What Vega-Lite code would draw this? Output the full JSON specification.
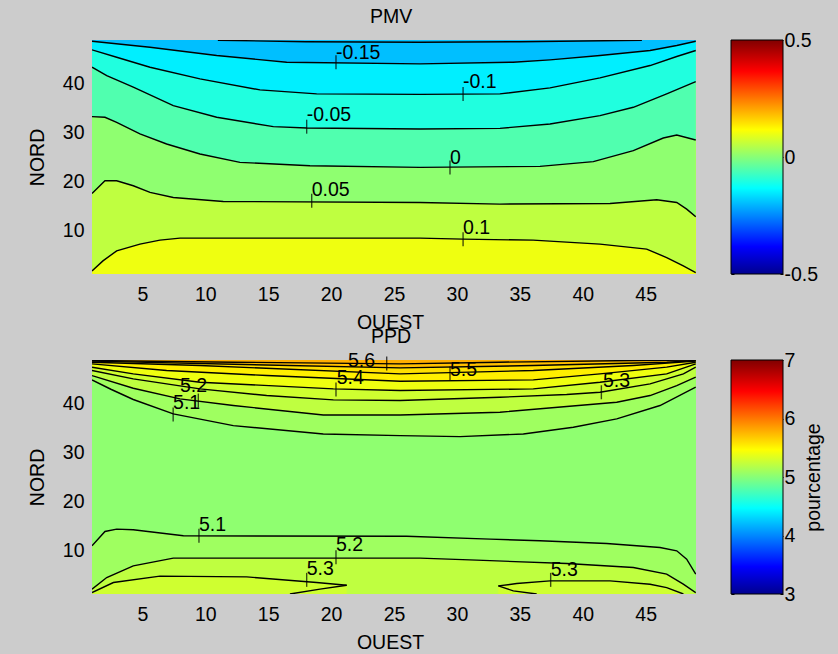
{
"$schema":"https://vega.github.io/schema/vega-lite/v6.json",
"background":"#cccccc",
"padding":{"left":27,"top":7,"right":20,"bottom":10},
"bounds":"flush",
"columns":2,
"spacing":{"row":86,"column":35},
"align":"each",
"resolve":{"scale":{"x":"independent","y":"independent","color":"independent"},"axis":{"x":"independent","y":"independent"}},
"config":{"font":"Liberation Sans","view":{"stroke":null},
"axis":{"grid":false,"domain":false,"ticks":false,"labelFontSize":19.5,"titleFontSize":19.5,"labelColor":"#000","titleColor":"#000","titleFontWeight":"normal","labelOverlap":false,"labelFlush":false},
"title":{"fontSize":19.5,"fontWeight":"normal","color":"#000"}},
"datasets":{
"pmv":[
{"id":"p010","x":1,"y":1.64},{"id":"p010","x":1.87,"y":3.69},{"id":"p010","x":2.96,"y":5.75},{"id":"p010","x":4.81,"y":7.12},{"id":"p010","x":6.4,"y":7.94},{"id":"p010","x":7.99,"y":8.36},{"id":"p010","x":14.35,"y":8.36},{"id":"p010","x":27.07,"y":8.36},{"id":"p010","x":30.48,"y":8.15},{"id":"p010","x":36.05,"y":7.94},{"id":"p010","x":41.37,"y":7.12},{"id":"p010","x":45.08,"y":6.1},{"id":"p010","x":46.67,"y":4.37},{"id":"p010","x":47.99,"y":2.66},{"id":"p010","x":48.98,"y":1.29},
{"id":"p005","x":1,"y":17.52},{"id":"p005","x":2.03,"y":20.13},{"id":"p005","x":2.96,"y":20.13},{"id":"p005","x":4.28,"y":19.1},{"id":"p005","x":5.61,"y":17.73},{"id":"p005","x":7.46,"y":16.7},{"id":"p005","x":11.43,"y":15.88},{"id":"p005","x":27.07,"y":15.67},{"id":"p005","x":33.42,"y":15.34},{"id":"p005","x":42.17,"y":15.46},{"id":"p005","x":45.88,"y":16.22},{"id":"p005","x":47.47,"y":15.67},{"id":"p005","x":48.26,"y":14.31},{"id":"p005","x":48.98,"y":12.73},
{"id":"p000","x":1,"y":33.29},{"id":"p000","x":2.03,"y":33.15},{"id":"p000","x":2.96,"y":32.12},{"id":"p000","x":4.81,"y":29.73},{"id":"p000","x":6.93,"y":27.67},{"id":"p000","x":9.58,"y":25.62},{"id":"p000","x":12.76,"y":23.9},{"id":"p000","x":18.32,"y":23.21},{"id":"p000","x":27.07,"y":22.87},{"id":"p000","x":36.6,"y":23.08},{"id":"p000","x":40.84,"y":24.04},{"id":"p000","x":44.02,"y":26.3},{"id":"p000","x":46.4,"y":28.9},{"id":"p000","x":47.47,"y":29.52},{"id":"p000","x":48.98,"y":28.49},
{"id":"m005","x":1,"y":43.42},{"id":"m005","x":2.17,"y":41.71},{"id":"m005","x":4.28,"y":39.32},{"id":"m005","x":7.46,"y":35.54},{"id":"m005","x":10.91,"y":33.15},{"id":"m005","x":15.41,"y":31.23},{"id":"m005","x":18.06,"y":30.96},{"id":"m005","x":27.07,"y":30.75},{"id":"m005","x":33.42,"y":30.88},{"id":"m005","x":37.4,"y":31.77},{"id":"m005","x":41.37,"y":33.49},{"id":"m005","x":44.02,"y":35.2},{"id":"m005","x":46.67,"y":37.94},{"id":"m005","x":48.98,"y":40.47},
{"id":"m010","x":1,"y":46.98},{"id":"m010","x":2.96,"y":45.47},{"id":"m010","x":5.61,"y":43.42},{"id":"m010","x":9.58,"y":41.02},{"id":"m010","x":14.35,"y":38.76},{"id":"m010","x":18.85,"y":37.94},{"id":"m010","x":27.07,"y":37.85},{"id":"m010","x":33.42,"y":37.94},{"id":"m010","x":37.4,"y":39.17},{"id":"m010","x":41.37,"y":41.23},{"id":"m010","x":45.35,"y":43.76},{"id":"m010","x":47.47,"y":45.61},{"id":"m010","x":48.98,"y":46.84},
{"id":"m015","x":1,"y":48.75},{"id":"m015","x":5.61,"y":47.52},{"id":"m015","x":10.91,"y":45.81},{"id":"m015","x":16.47,"y":44.44},{"id":"m015","x":27.07,"y":44.11},{"id":"m015","x":34.46,"y":44.44},{"id":"m015","x":37.4,"y":44.93},{"id":"m015","x":41.37,"y":45.81},{"id":"m015","x":45.35,"y":46.84},{"id":"m015","x":47.47,"y":47.87},{"id":"m015","x":48.98,"y":48.75},
{"id":"m020","x":11,"y":48.95},{"id":"m020","x":18,"y":48.65},{"id":"m020","x":27.07,"y":48.55},{"id":"m020","x":35,"y":48.65},{"id":"m020","x":44.7,"y":48.95}
],
"pmvText":[{"t":"-0.15","x":20.39,"y":45.13},{"t":"-0.1","x":30.48,"y":39.24},{"t":"-0.05","x":18.06,"y":32.46},{"t":"0","x":29.45,"y":23.62},{"t":"0.05","x":18.46,"y":17.05},{"t":"0.1","x":30.49,"y":9.24}],
"pmvPlus":[{"x":20.39,"y":44.44},{"x":30.49,"y":37.94},{"x":18.06,"y":31.22},{"x":29.45,"y":22.86},{"x":18.46,"y":16.02},{"x":30.49,"y":8.15}],
"ppd":[
{"id":"b51","x":1,"y":10.89},{"id":"b51","x":2.03,"y":13.83},{"id":"b51","x":2.96,"y":14.31},{"id":"b51","x":4.28,"y":14.17},{"id":"b51","x":8.26,"y":12.94},{"id":"b51","x":26,"y":12.85},{"id":"b51","x":32.63,"y":12.25},{"id":"b51","x":36.6,"y":11.91},{"id":"b51","x":41.9,"y":11.36},{"id":"b51","x":46.14,"y":10.54},{"id":"b51","x":47.47,"y":9.86},{"id":"b51","x":48.26,"y":8.15},{"id":"b51","x":48.98,"y":5.06},
{"id":"b52","x":1,"y":1.99},{"id":"b52","x":2.17,"y":4.38},{"id":"b52","x":4.28,"y":6.78},{"id":"b52","x":7.46,"y":8.36},{"id":"b52","x":14.88,"y":8.36},{"id":"b52","x":27.07,"y":8.36},{"id":"b52","x":31.57,"y":7.94},{"id":"b52","x":38.73,"y":7.25},{"id":"b52","x":44.02,"y":6.43},{"id":"b52","x":46.67,"y":5.07},{"id":"b52","x":47.99,"y":3.01},{"id":"b52","x":48.98,"y":1.29},
{"id":"b53a","x":1,"y":1.29},{"id":"b53a","x":2.7,"y":3.36},{"id":"b53a","x":6.4,"y":4.66},{"id":"b53a","x":13.29,"y":4.52},{"id":"b53a","x":18.85,"y":3.35},{"id":"b53a","x":21.24,"y":2.8},
{"id":"b53b","x":33.29,"y":2.66},{"id":"b53b","x":34.75,"y":3.14},{"id":"b53b","x":37.4,"y":3.69},{"id":"b53b","x":42.17,"y":3.69},{"id":"b53b","x":45.35,"y":3.01},{"id":"b53b","x":46.67,"y":2.32},{"id":"b53b","x":48,"y":1},
{"id":"t51","x":1,"y":44.92},{"id":"t51","x":2.5,"y":43.0},{"id":"t51","x":4.28,"y":40.9},{"id":"t51","x":7.46,"y":37.94},{"id":"t51","x":12.23,"y":35.54},{"id":"t51","x":19.38,"y":33.83},{"id":"t51","x":25.48,"y":33.49},{"id":"t51","x":30.25,"y":33.28},{"id":"t51","x":35.28,"y":33.83},{"id":"t51","x":39.25,"y":35.2},{"id":"t51","x":42.7,"y":36.91},{"id":"t51","x":46.14,"y":39.66},{"id":"t51","x":48.98,"y":43.42},
{"id":"t52","x":1,"y":45.81},{"id":"t52","x":4.28,"y":43.2},{"id":"t52","x":7.99,"y":41.02},{"id":"t52","x":12.23,"y":39.66},{"id":"t52","x":19.38,"y":37.73},{"id":"t52","x":25.48,"y":37.73},{"id":"t52","x":33.42,"y":38.28},{"id":"t52","x":38.72,"y":39.45},{"id":"t52","x":42.7,"y":40.34},{"id":"t52","x":45.35,"y":41.71},{"id":"t52","x":47.47,"y":43.76},{"id":"t52","x":48.98,"y":45.47},
{"id":"t53","x":1,"y":46.84},{"id":"t53","x":4.28,"y":45.12},{"id":"t53","x":9.58,"y":43.08},{"id":"t53","x":14.88,"y":41.71},{"id":"t53","x":20.18,"y":40.82},{"id":"t53","x":25.48,"y":40.68},{"id":"t53","x":33.42,"y":41.36},{"id":"t53","x":38.72,"y":41.91},{"id":"t53","x":41.37,"y":42.39},{"id":"t53","x":45.35,"y":44.1},{"id":"t53","x":48,"y":46.16},{"id":"t53","x":48.98,"y":47.53},
{"id":"t54","x":1,"y":47.53},{"id":"t54","x":4.28,"y":46.16},{"id":"t54","x":9.58,"y":44.44},{"id":"t54","x":20.18,"y":43.08},{"id":"t54","x":25.48,"y":42.73},{"id":"t54","x":36.07,"y":43.08},{"id":"t54","x":41.37,"y":44.44},{"id":"t54","x":46.67,"y":46.16},{"id":"t54","x":48.98,"y":48.21},
{"id":"t55","x":1,"y":48.21},{"id":"t55","x":6.93,"y":46.84},{"id":"t55","x":14.88,"y":45.81},{"id":"t55","x":25.48,"y":44.64},{"id":"t55","x":36.07,"y":44.92},{"id":"t55","x":41.37,"y":46.16},{"id":"t55","x":46.67,"y":47.53},{"id":"t55","x":48.98,"y":48.55},
{"id":"t56","x":1,"y":48.55},{"id":"t56","x":9.58,"y":47.86},{"id":"t56","x":25.48,"y":46.16},{"id":"t56","x":36.07,"y":46.84},{"id":"t56","x":44.02,"y":47.86},{"id":"t56","x":48.98,"y":48.76},
{"id":"t57","x":1,"y":48.76},{"id":"t57","x":25.48,"y":47.39},{"id":"t57","x":36.07,"y":47.86},{"id":"t57","x":46.67,"y":48.55},{"id":"t57","x":48.98,"y":48.9},
{"id":"t58","x":1,"y":48.9},{"id":"t58","x":12.23,"y":48.55},{"id":"t58","x":25.48,"y":48.21},{"id":"t58","x":33.42,"y":48.55},{"id":"t58","x":44.02,"y":48.9},{"id":"t58","x":48.98,"y":49},
{"id":"e53a","x":16.73,"y":1},{"id":"e53a","x":19.12,"y":1.99},{"id":"e53a","x":21.24,"y":2.8},
{"id":"e53b","x":33.29,"y":2.66},{"id":"e53b","x":34.48,"y":1.64},{"id":"e53b","x":36.34,"y":1}
],
"ppdText":[{"t":"5.6","x":21.34,"y":47.52},{"t":"5.4","x":20.45,"y":44.17},{"t":"5.5","x":29.45,"y":45.81},{"t":"5.3","x":41.61,"y":43.55},{"t":"5.2","x":7.99,"y":42.52},{"t":"5.1","x":7.44,"y":39.03},{"t":"5.1","x":9.5,"y":13.96},{"t":"5.2","x":20.39,"y":9.86},{"t":"5.3","x":18.06,"y":4.92},{"t":"5.3","x":37.45,"y":4.72}],
"ppdPlus":[{"x":24.42,"y":48.28},{"x":20.39,"y":42.94},{"x":29.45,"y":46.22},{"x":41.48,"y":42.38},{"x":9.45,"y":40.68},{"x":7.45,"y":37.8},{"x":9.5,"y":12.94},{"x":20.39,"y":8.52},{"x":18.06,"y":3.9},{"x":37.45,"y":3.9}]
},
"concat":[
{"width":604,"height":234,
"title":{"text":"PMV","baseline":"alphabetic","offset":17.5,"dx":-3,"dy":20},
"view":{"fill":"#efff10"},
"encoding":{
"x":{"field":"x","type":"quantitative","scale":{"domain":[1,49],"nice":false,"zero":false},"axis":{"values":[5,10,15,20,25,30,35,40,45],"title":"OUEST","labelBaseline":"alphabetic","labelPadding":26,"titleBaseline":"alphabetic","titleY":54,"titleX":298}},
"y":{"field":"y","type":"quantitative","stack":null,"scale":{"domain":[1,49],"nice":false,"zero":false},"axis":{"values":[10,20,30,40],"title":"NORD","labelPadding":8,"labelBaseline":"middle","titleX":-54.5,"titleBaseline":"middle"}}
},
"layer":[
{"data":{"name":"pmv"},"transform":[{"filter":"datum.id !== 'm020'"}],"mark":{"type":"area","clip":true},"encoding":{"y2":{"datum":49},"color":{"field":"id","type":"nominal","scale":{"domain":["p010","p005","p000","m005","m010","m015"],"range":["#bfff40","#8fff70","#50ffaf","#20ffdf","#00efff","#00bfff"]},"legend":null}}},
{"data":{"name":"pmv"},"mark":{"type":"line","color":"#000","strokeWidth":1.4,"clip":true},"encoding":{"detail":{"field":"id"}}},
{"data":{"name":"pmvPlus"},"mark":{"type":"tick","orient":"vertical","size":14,"thickness":1.4,"color":"#000"}},
{"data":{"name":"pmvText"},"mark":{"type":"text","align":"left","baseline":"alphabetic","fontSize":19.5,"color":"#000"},"encoding":{"text":{"field":"t"}}},
{"data":{"values":[{}]},"mark":{"type":"rect","filled":false,"stroke":"#000","strokeWidth":1},"encoding":{"x":{"datum":1},"x2":{"datum":49},"y":{"datum":1},"y2":{"datum":49}}}
]},
{"width":52,"height":234,
"data":{"values":[{}]},
"layer":[
{"mark":{"type":"rect","color":{"gradient":"linear","x1":0,"y1":1,"x2":0,"y2":0,"stops":[{"offset":0,"color":"#00008f"},{"offset":0.117,"color":"#0000ff"},{"offset":0.367,"color":"#00ffff"},{"offset":0.617,"color":"#ffff00"},{"offset":0.867,"color":"#ff0000"},{"offset":1,"color":"#800000"}]},"stroke":"#000","strokeWidth":1},
"encoding":{"x":{"datum":0,"type":"quantitative","scale":{"domain":[0,1],"nice":false},"axis":null},"x2":{"datum":1},
"y":{"datum":-0.5,"type":"quantitative","scale":{"domain":[-0.5,0.5],"nice":false,"zero":false},"axis":{"orient":"right","values":[-0.5,0,0.5],"labelExpr":"'' + datum.value","labelPadding":4,"labelBaseline":"middle","ticks":true,"tickSize":-3,"tickColor":"#000","title":null}},
"y2":{"datum":0.5}}},
{"mark":{"type":"rect","opacity":0},
"encoding":{"x":{"datum":0,"type":"quantitative","axis":null},"x2":{"datum":1},
"y":{"datum":-0.5,"type":"quantitative","axis":{"orient":"left","values":[-0.5,0,0.5],"labels":false,"ticks":true,"tickSize":-3,"tickColor":"#000","title":null}},
"y2":{"datum":0.5}}}
],
"resolve":{"axis":{"y":"independent"}}},
{"width":604,"height":234,
"title":{"text":"PPD","baseline":"alphabetic","offset":16.5,"dx":-3,"dy":28},
"view":{"fill":"#8fff70"},
"encoding":{
"x":{"field":"x","type":"quantitative","scale":{"domain":[1,49],"nice":false,"zero":false},"axis":{"values":[5,10,15,20,25,30,35,40,45],"title":"OUEST","labelBaseline":"alphabetic","labelPadding":26,"titleBaseline":"alphabetic","titleY":54,"titleX":298}},
"y":{"field":"y","type":"quantitative","stack":null,"scale":{"domain":[1,49],"nice":false,"zero":false},"axis":{"values":[10,20,30,40],"title":"NORD","labelPadding":8,"labelBaseline":"middle","titleX":-54.5,"titleBaseline":"middle"}}
},
"layer":[
{"data":{"name":"ppd"},"transform":[{"filter":"datum.id[0] === 'b'"}],"mark":{"type":"area","clip":true},"encoding":{"y2":{"datum":1},"color":{"field":"id","type":"nominal","scale":{"domain":["b51","b52","b53a","b53b","t51","t52","t53","t54","t55","t56","t57","t58"],"range":["#9fff60","#bfff40","#cfff30","#cfff30","#9fff60","#bfff40","#cfff30","#efff10","#ffef00","#ffdf00","#ffbf00","#ffaf00"]},"legend":null}}},
{"data":{"name":"ppd"},"transform":[{"filter":"datum.id[0] === 't'"}],"mark":{"type":"area","clip":true},"encoding":{"y2":{"datum":49},"color":{"field":"id","type":"nominal","legend":null}}},
{"data":{"name":"ppd"},"mark":{"type":"line","color":"#000","strokeWidth":1.4,"clip":true},"encoding":{"detail":{"field":"id"}}},
{"data":{"name":"ppdPlus"},"mark":{"type":"tick","orient":"vertical","size":14,"thickness":1.4,"color":"#000"}},
{"data":{"name":"ppdText"},"mark":{"type":"text","align":"left","baseline":"alphabetic","fontSize":19.5,"color":"#000"},"encoding":{"text":{"field":"t"}}},
{"data":{"values":[{}]},"mark":{"type":"rect","filled":false,"stroke":"#000","strokeWidth":1},"encoding":{"x":{"datum":1},"x2":{"datum":49},"y":{"datum":1},"y2":{"datum":49}}}
]},
{"width":52,"height":234,
"data":{"values":[{}]},
"layer":[
{"mark":{"type":"rect","color":{"gradient":"linear","x1":0,"y1":1,"x2":0,"y2":0,"stops":[{"offset":0,"color":"#00008f"},{"offset":0.117,"color":"#0000ff"},{"offset":0.367,"color":"#00ffff"},{"offset":0.617,"color":"#ffff00"},{"offset":0.867,"color":"#ff0000"},{"offset":1,"color":"#800000"}]},"stroke":"#000","strokeWidth":1},
"encoding":{"x":{"datum":0,"type":"quantitative","scale":{"domain":[0,1],"nice":false},"axis":null},"x2":{"datum":1},
"y":{"datum":3,"type":"quantitative","scale":{"domain":[3,7],"nice":false,"zero":false},"axis":{"orient":"right","values":[3,4,5,6,7],"labelExpr":"'' + datum.value","labelPadding":4,"labelBaseline":"middle","ticks":true,"tickSize":-3,"tickColor":"#000","title":"pourcentage","titleAngle":270,"titleBaseline":"middle","titleX":30}},
"y2":{"datum":7}}},
{"mark":{"type":"rect","opacity":0},
"encoding":{"x":{"datum":0,"type":"quantitative","axis":null},"x2":{"datum":1},
"y":{"datum":3,"type":"quantitative","axis":{"orient":"left","values":[3,4,5,6,7],"labels":false,"ticks":true,"tickSize":-3,"tickColor":"#000","title":null}},
"y2":{"datum":7}}}
],
"resolve":{"axis":{"y":"independent"}}}
]
}
